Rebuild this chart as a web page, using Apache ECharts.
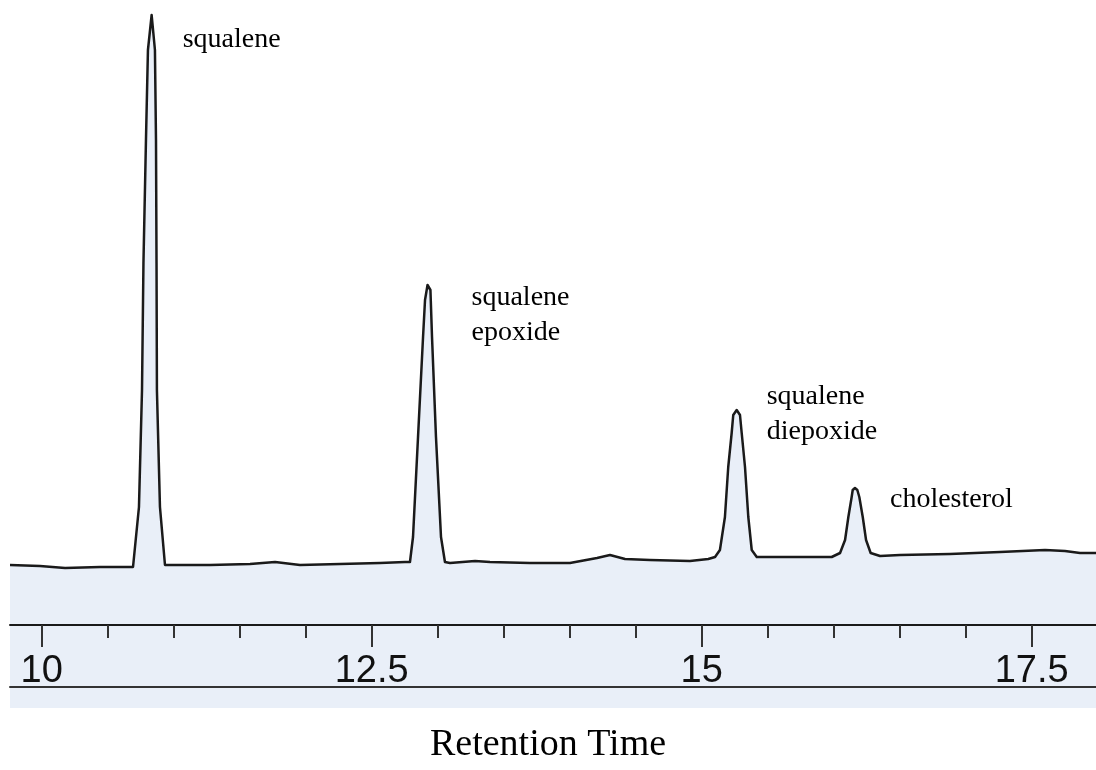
<!DOCTYPE html>
<html lang="en">
<head>
    <meta charset="UTF-8">
    <title>Retention Time</title>
    <script src="https://cdn.jsdelivr.net/npm/echarts@6/dist/echarts.min.js"></script>
    <style>
        html, body { margin: 0; padding: 0; background: #fff; }
        #chart { width: 1096px; height: 770px; }
    </style>
</head>
<body>
<div id="chart"></div>
<script type="text/javascript">
    // retention time (min) and detector signal
    var times = [
        9.76, 9.987, 10.177, 10.442, 10.669,
        10.692, 10.737, 10.760, 10.771, 10.790, 10.805, 10.833, 10.858, 10.866, 10.870, 10.873, 10.896, 10.934,
        10.972, 11.275, 11.578, 11.768, 11.957, 12.260, 12.563, 12.752,
        12.790, 12.813, 12.851, 12.889, 12.904, 12.923, 12.945, 12.957, 12.987, 13.025, 13.055,
        13.093, 13.283, 13.396, 13.699, 14.002, 14.207, 14.305, 14.419, 14.608, 14.911, 15.050,
        15.101, 15.138, 15.176, 15.201, 15.227, 15.239, 15.265, 15.290, 15.303, 15.328, 15.353, 15.379, 15.417,
        15.617, 15.870,
        15.985, 16.048, 16.086, 16.111, 16.136, 16.144, 16.161, 16.179, 16.194, 16.220, 16.245, 16.280, 16.351,
        16.502, 16.881, 17.260, 17.601, 17.752, 17.866, 17.987
    ];
    var signal = [
        3, 2, 0, 1, 1,
        1, 61, 178, 305, 428, 518, 553, 518, 428, 305, 178, 61, 3,
        3, 3, 4, 6, 3, 4, 5, 6,
        6, 31, 131, 231, 268, 283, 278, 231, 131, 31, 6,
        5, 7, 6, 5, 5, 10, 13, 9, 8, 7, 9,
        11, 18, 51, 101, 135, 153, 158, 153, 135, 101, 51, 18, 11,
        11, 11,
        11, 15, 28, 51, 71, 78, 80, 78, 71, 51, 28, 15, 12,
        13, 14, 16, 18, 17, 15, 15
    ];

    var peakNames = ['squalene', 'squalene\nepoxide', 'squalene\ndiepoxide', 'cholesterol'];
    var peakTimes = [10.833, 12.923, 15.265, 16.161];
    var peakHeights = [553, 283, 158, 80];

    var majorTicks = [10, 12.5, 15, 17.5];
    var minorTicks = [10.5, 11, 11.5, 12, 13, 13.5, 14, 14.5, 15.5, 16, 16.5, 17, 17.5, 18];

    var xMin = 9.76, xMax = 17.987;

    var trace = [];
    for (var i = 0; i < times.length; i++) {
        trace.push([times[i], signal[i]]);
    }

    // label offsets from each peak apex (px)
    var labelOffsets = [[31, 25], [44, 30], [30, 4], [35, 12]];
    var marks = [];
    for (var j = 0; j < peakNames.length; j++) {
        marks.push({
            coord: [peakTimes[j], peakHeights[j]],
            label: {position: labelOffsets[j]},
            value: peakNames[j]
        });
    }

    var myChart = echarts.init(document.getElementById('chart'));
    var option = {
        animation: false,
        backgroundColor: '#ffffff',
        title: {
            text: 'Retention Time',
            left: 'center',
            top: 721,
            textStyle: {
                fontFamily: 'Liberation Serif',
                fontSize: 38,
                fontWeight: 'normal',
                color: '#000'
            }
        },
        grid: [
            {left: 10, right: 0, top: 8, bottom: 62},
            // scale strip: its bottom edge carries the ticked line at y=625
            {left: 10, right: 0, top: 563, height: 62},
            {left: 10, right: 0, top: 563, height: 62},
            // lower rule at y=687
            {left: 10, right: 0, top: 625, height: 62}
        ],
        xAxis: [
            {
                type: 'value', gridIndex: 0, min: xMin, max: xMax,
                show: false
            },
            {
                // main scale with long ticks and labels
                type: 'value', gridIndex: 1, min: xMin, max: xMax, z: 10,
                axisLine: {show: true, lineStyle: {color: '#1a1a1a', width: 2}},
                axisTick: {show: true, length: 22, customValues: majorTicks,
                    lineStyle: {color: '#333', width: 2}},
                axisLabel: {show: true, margin: 28, customValues: majorTicks,
                    fontFamily: 'Liberation Sans', fontSize: 38, color: '#111'},
                splitLine: {show: false}
            },
            {
                // short ticks every 0.5
                type: 'value', gridIndex: 2, min: xMin, max: xMax, z: 10,
                axisLine: {show: false},
                axisTick: {show: true, length: 13, customValues: minorTicks,
                    lineStyle: {color: '#333', width: 2}},
                axisLabel: {show: false},
                splitLine: {show: false}
            },
            {
                type: 'value', gridIndex: 3, min: xMin, max: xMax, z: 10,
                axisLine: {show: true, lineStyle: {color: '#333', width: 2}},
                axisTick: {show: false},
                axisLabel: {show: false},
                splitLine: {show: false}
            }
        ],
        yAxis: [
            {type: 'value', gridIndex: 0, min: -140, max: 560, show: false},
            {type: 'value', gridIndex: 1, min: 0, max: 1, show: false},
            {type: 'value', gridIndex: 2, min: 0, max: 1, show: false},
            {type: 'value', gridIndex: 3, min: 0, max: 1, show: false}
        ],
        series: [
            {
                name: 'trace',
                type: 'line',
                z: 1,
                xAxisIndex: 0,
                yAxisIndex: 0,
                data: trace,
                showSymbol: false,
                smooth: false,
                lineStyle: {color: '#1a1a1a', width: 2.5, join: 'round'},
                areaStyle: {color: '#e9eff8', origin: 'start', opacity: 1},
                markPoint: {
                    symbol: 'circle',
                    symbolSize: 0,
                    silent: true,
                    label: {
                        show: true,
                        align: 'left',
                        verticalAlign: 'middle',
                        fontFamily: 'Liberation Serif',
                        fontSize: 28,
                        lineHeight: 35,
                        color: '#000',
                        formatter: function (p) { return p.data.value; }
                    },
                    data: marks
                }
            }
        ]
    };
    myChart.setOption(option);
</script>
</body>
</html>
